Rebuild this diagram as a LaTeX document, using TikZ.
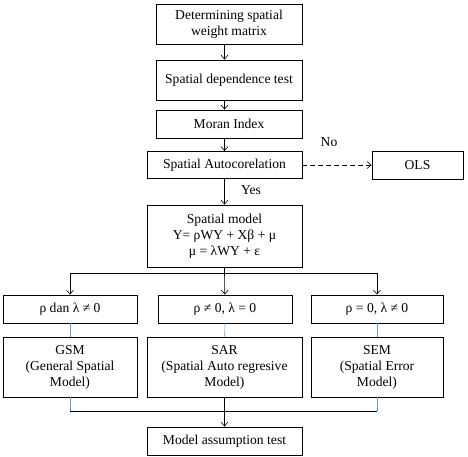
\documentclass[tikz,border=0pt]{standalone}
\usepackage{fontspec}
\setmainfont{Liberation Serif}
\usetikzlibrary{arrows.meta}
\definecolor{linkblue}{RGB}{91,155,213}
\tikzset{
    stepbox/.style={draw, line width=0.9pt, align=center, inner sep=2pt,
        font=\fontsize{13.6}{16}\selectfont},
    flow/.style={line width=0.6pt, -{Straight Barb[length=4pt,width=7pt]}},
    link/.style={line width=0.6pt, linkblue}
}
\begin{document}
\begin{tikzpicture}[x=1pt,y=-1pt]
    \useasboundingbox (0,0) rectangle (468,456);

    % Main chain of steps
    \node[stepbox, minimum width=146pt, minimum height=40pt] (weight) at (229,24) {Determining spatial\\weight matrix};
    \node[stepbox, minimum width=146pt, minimum height=40pt] (dep) at (229,80) {Spatial dependence test};
    \node[stepbox, minimum width=146pt, minimum height=28pt] (moran) at (229,124) {Moran Index};
    \node[stepbox, minimum width=155pt, minimum height=27pt] (autocor) at (224.5,165) {Spatial Autocorelation};
    \node[stepbox, minimum width=91pt, minimum height=28pt] (ols) at (417.5,165) {OLS};
    \node[stepbox, minimum width=155pt, minimum height=62pt] (model) at (224.5,236) {Spatial model\\Y= ρWY + Xβ + μ\\μ = λWY + ε};

    % Conditions on rho and lambda
    \node[stepbox, minimum width=134pt, minimum height=28pt] (condgsm) at (70,309) {ρ dan λ ≠ 0};
    \node[stepbox, minimum width=134pt, minimum height=28pt] (condsar) at (225,309) {ρ ≠ 0, λ = 0};
    \node[stepbox, minimum width=132pt, minimum height=28pt] (condsem) at (377,309) {ρ = 0, λ ≠ 0};

    % The three models
    \node[stepbox, minimum width=134pt, minimum height=60pt] (gsm) at (70,367) {GSM\\(General Spatial\\Model)};
    \node[stepbox, minimum width=155pt, minimum height=60pt] (sar) at (224.5,367) {SAR\\(Spatial Auto regresive\\Model)};
    \node[stepbox, minimum width=132pt, minimum height=60pt] (sem) at (377,367) {SEM\\(Spatial Error\\Model)};

    % Last step
    \node[stepbox, minimum width=155pt, minimum height=28pt] (assume) at (224.5,441) {Model assumption test};

    % Split and join points
    \coordinate (split) at (224.5,273);
    \coordinate (join) at (224.5,411);

    % Arrows down the chain
    \draw[flow] (weight.south -| autocor) -- (dep.north -| autocor);
    \draw[flow] (dep.south -| autocor) -- (moran.north -| autocor);
    \draw[flow] (moran.south -| autocor) -- (autocor.north);
    \draw[flow] (autocor) -- (model) node[pos=0.45, right=13pt, font=\fontsize{13.6}{16}\selectfont] {Yes};
    \draw[flow, dash pattern=on 5pt off 3pt] (autocor) -- (ols);
    \node[font=\fontsize{13.6}{16}\selectfont] (no) at (329,142) {No};

    % Branching to the conditions
    \draw[line width=0.6pt] (model) -- (split);
    \draw[line width=0.6pt] (split -| condgsm) -- (split -| condsem);
    \draw[flow] (split -| condgsm) -- (condgsm);
    \draw[flow] (split) -- (condsar);
    \draw[flow] (split -| condsem) -- (condsem);

    % Conditions to models
    \draw[link] (condgsm) -- (gsm);
    \draw[link] (condsar) -- (sar);
    \draw[link] (condsem) -- (sem);

    % Joining the models
    \draw[link] (gsm) -- (join -| gsm);
    \draw[link] (sem) -- (join -| sem);
    \draw[line width=0.6pt] (join -| gsm) -- (join -| sem);
    \draw[flow] (sar) -- (assume);
\end{tikzpicture}
\end{document}
